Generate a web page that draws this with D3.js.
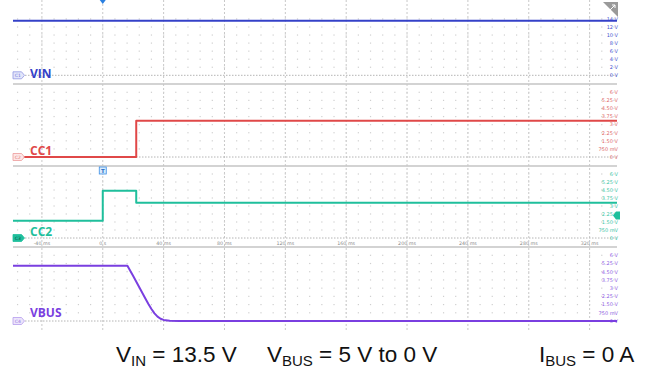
<!DOCTYPE html>
<html>
<head>
<meta charset="utf-8">
<script src="https://cdn.jsdelivr.net/npm/d3@7"></script>
<style>
  body { margin: 0; background: #fff; }
  svg { display: block; }
</style>
</head>
<body>
<svg id="chart" width="647" height="370"></svg>
<script>
// time axis (ms)
var timeTicks = [-40, 0, 40, 80, 120, 160, 200, 240, 280, 320];
var timeLabels = ["-40 ms", "0 s", "40 ms", "80 ms", "120 ms", "160 ms", "200 ms", "240 ms", "280 ms", "320 ms"];

// per channel vertical labels
var vinLevels = [0, 2, 4, 6, 8, 10, 12, 14];
var vinLabels = ["0 V", "2 V", "4 V", "6 V", "8 V", "10 V", "12 V", "14 V"];
var ccLevels = [0, 0.75, 1.5, 2.25, 3, 3.75, 4.5, 5.25, 6];
var ccLabels = ["0 V", "750 mV", "1.50 V", "2.25 V", "3 V", "3.75 V", "4.50 V", "5.25 V", "6 V"];

// traces: [time ms, volts]
var vinTrace = [[-59, 13.55], [338, 13.55]];
var cc1Trace = [[-59, 0], [22, 0], [22, 3.37], [338, 3.37]];
var cc2Trace = [[-59, 1.62], [0, 1.62], [0, 4.43], [22, 4.43], [22, 3.3], [338, 3.3]];
var vbusTrace = [[-59, 5.05], [16.2, 5.05], [20, 4.1], [24, 3.08], [28, 2.06], [30, 1.56], [32, 1.1],
  [34, 0.7], [36, 0.4], [38, 0.2], [40, 0.1], [44, 0.03], [50, 0], [338, 0]];

var svg = d3.select("#chart");
var left = 13, right = 617;

var x = d3.scaleLinear().domain([-59, 338]).range([left, right]);

// channels, each with its own vertical scale
var channels = [
  { name: "VIN", badge: "C1", color: "#3441c8", label: "#4552d0", y: d3.scaleLinear().domain([0, 16]).range([75.3, 10.9]),
    levels: vinLevels, labels: vinLabels, trace: vinTrace, badgeFill: "#e3e5fa", badgeStroke: "#8f97e2", badgeText: "#6a74d8", ty: 78 },
  { name: "CC1", badge: "C2", color: "#e04848", label: "#e06a6a", y: d3.scaleLinear().domain([0, 6]).range([157, 92.3]),
    levels: ccLevels, labels: ccLabels, trace: cc1Trace, badgeFill: "#fde6e6", badgeStroke: "#ec9a9a", badgeText: "#e07070", ty: 155 },
  { name: "CC2", badge: "C3", color: "#1fbf9c", label: "#3cc6a6", y: d3.scaleLinear().domain([0, 6]).range([238, 174]),
    levels: ccLevels, labels: ccLabels, trace: cc2Trace, badgeFill: "#1fbf9c", badgeStroke: "#1fbf9c", badgeText: "#0c4a3c", ty: 236 },
  { name: "VBUS", badge: "C4", color: "#7a3fe0", label: "#8f62e4", y: d3.scaleLinear().domain([0, 6]).range([321, 255.3]),
    levels: ccLevels, labels: ccLabels, trace: vbusTrace, badgeFill: "#ece4fb", badgeStroke: "#b59ded", badgeText: "#9274e0", ty: 317 }
];

var separators = [84, 166, 247];

// vertical dashed grid
svg.append("g").selectAll("line")
  .data(timeTicks)
  .enter().append("line")
  .attr("x1", function(d) { return x(d); })
  .attr("x2", function(d) { return x(d); })
  .attr("y1", 0).attr("y2", 331)
  .attr("stroke", "#c8c8c8")
  .attr("stroke-width", 1)
  .attr("stroke-dasharray", "2,2");

// dot grid (every 1/5 division)
var minorTimes = d3.range(-56, 338, 8);
channels.forEach(function(ch) {
  var g = svg.append("g");
  ch.levels.slice(1).forEach(function(lv) {
    g.selectAll(null)
      .data(minorTimes)
      .enter().append("rect")
      .attr("x", function(d) { return x(d) - 0.6; })
      .attr("y", ch.y(lv) - 0.6)
      .attr("width", 1.2).attr("height", 1.2)
      .attr("fill", "#cfcfcf");
  });
  // zero reference line
  g.append("line")
    .attr("x1", left).attr("x2", right)
    .attr("y1", ch.y(0)).attr("y2", ch.y(0))
    .attr("stroke", "#b4b4b4")
    .attr("stroke-width", 1)
    .attr("stroke-dasharray", "1.5,1.5");
});

// panel separators
svg.append("g").selectAll("line")
  .data(separators)
  .enter().append("line")
  .attr("x1", left).attr("x2", right)
  .attr("y1", function(d) { return d; }).attr("y2", function(d) { return d; })
  .attr("stroke", "#c4c4c4")
  .attr("stroke-width", 1.5);

// time labels in CC2 panel
svg.append("g").selectAll("text")
  .data(timeTicks)
  .enter().append("text")
  .attr("x", function(d) { return x(d); })
  .attr("y", 244.5)
  .attr("text-anchor", "middle")
  .attr("font-family", "DejaVu Sans, sans-serif")
  .attr("font-size", 4.8)
  .attr("fill", "#8a8a8a")
  .text(function(d, i) { return timeLabels[i]; });

// right side level labels
channels.forEach(function(ch) {
  svg.append("g").selectAll("text")
    .data(ch.levels)
    .enter().append("text")
    .attr("x", 618)
    .attr("y", function(d) { return ch.y(d) + 1.8; })
    .attr("text-anchor", "end")
    .attr("font-family", "DejaVu Sans, sans-serif")
    .attr("font-size", 5)
    .attr("fill", ch.label)
    .text(function(d, i) { return ch.labels[i]; });
});

// traces
channels.forEach(function(ch) {
  var line = d3.line()
    .x(function(d) { return x(d[0]); })
    .y(function(d) { return ch.y(d[1]); });
  svg.append("path")
    .datum(ch.trace)
    .attr("d", line)
    .attr("fill", "none")
    .attr("stroke", ch.color)
    .attr("stroke-width", 2)
    .attr("stroke-linejoin", "round");
});

// channel badges + names
channels.forEach(function(ch) {
  var y0 = ch.y(0);
  svg.append("path")
    .attr("d", "M" + left + "," + (y0 - 3.5) + "h8.5l3,3.5l-3,3.5h-8.5z")
    .attr("fill", ch.badgeFill)
    .attr("stroke", ch.badgeStroke)
    .attr("stroke-width", 0.8);
  svg.append("text")
    .attr("x", left + 4.8).attr("y", y0 + 1.7)
    .attr("text-anchor", "middle")
    .attr("font-family", "DejaVu Sans, sans-serif")
    .attr("font-size", 4.5)
    .attr("fill", ch.badgeText)
    .text(ch.badge);
  svg.append("text")
    .attr("x", 30).attr("y", ch.ty)
    .attr("font-family", "Open Sans, sans-serif")
    .attr("font-weight", "bold")
    .attr("font-size", 12)
    .attr("fill", ch.color)
    .text(ch.name);
});

// trigger markers
svg.append("path")
  .attr("d", "M" + (x(0) - 3) + ",0h6l-3,4z")
  .attr("fill", "#2a7fe0");
svg.append("rect")
  .attr("x", x(0) - 3.5).attr("y", 167)
  .attr("width", 7).attr("height", 7)
  .attr("fill", "#d8ebfb").attr("stroke", "#3c8ee6").attr("stroke-width", 0.8);
svg.append("text")
  .attr("x", x(0)).attr("y", 172.8)
  .attr("text-anchor", "middle")
  .attr("font-family", "DejaVu Sans, sans-serif")
  .attr("font-size", 5.5).attr("font-weight", "bold")
  .attr("fill", "#2a6fc8")
  .text("T");

// trigger level marker for CC2
var trigY = channels[2].y(2.1);
svg.append("path")
  .attr("d", "M620," + (trigY - 4) + "v8h-4l-3,-4l3,-4z")
  .attr("fill", "#1fbf9c");

// zoom corner
svg.append("path")
  .attr("d", "M603,2h15v15z")
  .attr("fill", "#9a9a9a");
svg.append("path")
  .attr("d", "M610,10l5,-5M612,5h3v3")
  .attr("stroke", "#fff").attr("stroke-width", 1).attr("fill", "none");

// bottom caption
var caption = svg.append("g")
  .attr("font-family", "Liberation Sans, Arial, sans-serif")
  .attr("font-size", 22.5)
  .attr("fill", "#111");

function subText(xPos, main, sub, rest) {
  var t = caption.append("text").attr("x", xPos).attr("y", 362);
  t.append("tspan").text(main);
  t.append("tspan").attr("font-size", 15).attr("dy", 4).text(sub);
  t.append("tspan").attr("dy", -4).text(rest);
}
subText(116, "V", "IN", " = 13.5 V");
subText(267, "V", "BUS", " = 5 V to 0 V");
subText(539, "I", "BUS", " = 0 A");
</script>
</body>
</html>
